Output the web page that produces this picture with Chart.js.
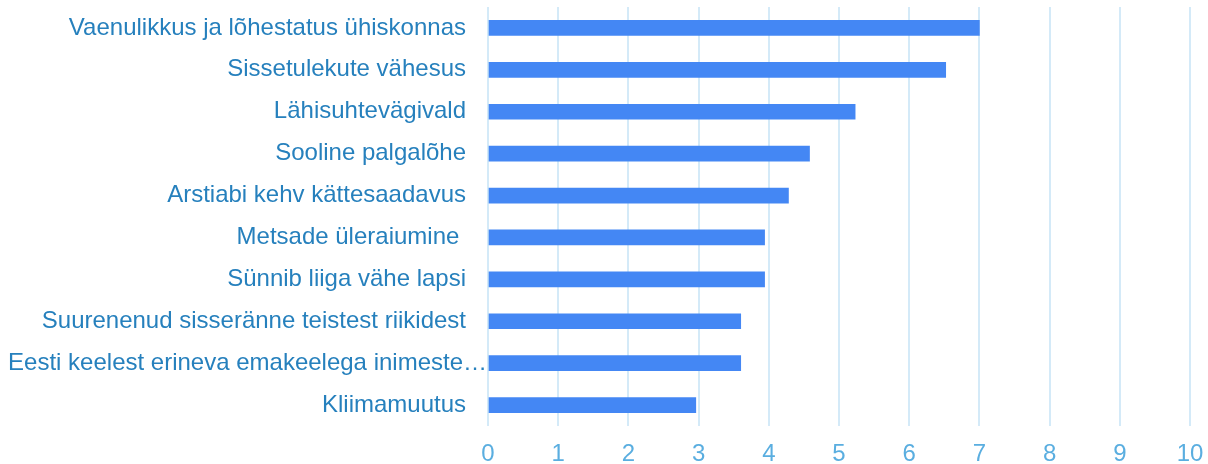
<!DOCTYPE html>
<html>
<head>
<meta charset="utf-8">
<script src="https://cdn.jsdelivr.net/npm/chart.js@4"></script>
<style>
  html, body { margin: 0; padding: 0; background: #fff; }
  #wrap { width: 1208px; height: 464px; }
</style>
</head>
<body>
<div id="wrap"><canvas id="chart" width="1208" height="464"></canvas></div>
<script>
const categories = [
  'Vaenulikkus ja lõhestatus ühiskonnas',
  'Sissetulekute vähesus',
  'Lähisuhtevägivald',
  'Sooline palgalõhe',
  'Arstiabi kehv kättesaadavus',
  'Metsade üleraiumine ',
  'Sünnib liiga vähe lapsi',
  'Suurenenud sisseränne teistest riikidest',
  'Eesti keelest erineva emakeelega inimeste…',
  'Kliimamuutus'
];
const values = [7.0, 6.52, 5.23, 4.58, 4.28, 3.94, 3.94, 3.6, 3.6, 2.96];
const xMin = 0, xMax = 10, xStep = 1;

const labelFont = '24px Arial, "Liberation Sans", sans-serif';

// category labels drawn by hand so the truncated one can sit flush with the axis
const catLabels = {
  id: 'catLabels',
  afterDraw(chart) {
    const ctx = chart.ctx, sc = chart.scales.y;
    ctx.save();
    ctx.font = labelFont;
    ctx.fillStyle = '#2680bd';
    ctx.textAlign = 'right';
    ctx.textBaseline = 'middle';
    sc.ticks.forEach((t, i) => {
      const lab = categories[i];
      const x = lab.endsWith('…') ? sc.right - 1 : sc.right - 22;
      ctx.fillText(lab, x, sc.getPixelForTick(i));
    });
    ctx.restore();
  }
};

new Chart(document.getElementById('chart'), {
  type: 'bar',
  data: {
    labels: categories,
    datasets: [{
      data: values,
      backgroundColor: '#4487f4',
      barThickness: 15
    }]
  },
  options: {
    indexAxis: 'y',
    responsive: false,
    animation: false,
    layout: { padding: { top: 7, right: 0, left: 0, bottom: 0 } },
    plugins: { legend: { display: false }, tooltip: { enabled: false } },
    scales: {
      x: {
        min: xMin, max: xMax,
        ticks: {
          stepSize: xStep,
          color: '#5aaee0',
          font: { family: 'Arial, "Liberation Sans", sans-serif', size: 24 },
          padding: 14
        },
        grid: { color: '#d4eaf8', lineWidth: 2, drawTicks: false },
        border: { display: false },
        afterFit(s) { s.height = 38; s.paddingRight = 18; s.paddingLeft = 0; }
      },
      y: {
        ticks: { display: false },
        grid: { display: false, drawTicks: false },
        border: { display: false },
        afterFit(s) { s.width = 488; }
      }
    }
  },
  plugins: [catLabels]
});
</script>
</body>
</html>
